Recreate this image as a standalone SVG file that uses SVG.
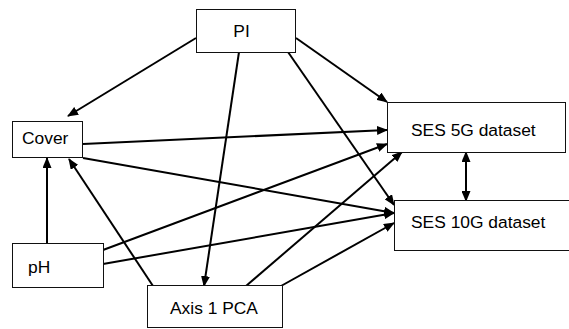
<svg xmlns="http://www.w3.org/2000/svg" width="569" height="329" viewBox="0 0 569 329">
<style>
.box{fill:#fff;stroke:#111;stroke-width:1}
.lbl{font-family:"Liberation Sans",Arial,sans-serif;font-size:17.4px;fill:#000}
.edge{stroke:#000;stroke-width:2;fill:none;marker-end:url(#ah)}
</style>
<defs>
<marker id="ah" markerUnits="userSpaceOnUse" markerWidth="11" markerHeight="9" refX="10" refY="4.5" orient="auto-start-reverse">
<path d="M0,0 L11,4.5 L0,9 z" fill="#000"/>
</marker>
</defs>
<rect width="569" height="329" fill="#fff"/>
<g id="connectors">
<line class="edge" x1="196" y1="38" x2="68" y2="116"/>
<line class="edge" x1="296" y1="38" x2="387" y2="102"/>
<line class="edge" x1="239" y1="52" x2="204" y2="286"/>
<line class="edge" x1="288" y1="52" x2="394" y2="205"/>
<line class="edge" x1="83" y1="144" x2="387" y2="130"/>
<line class="edge" x1="83" y1="158" x2="394" y2="213"/>
<line class="edge" x1="47" y1="243" x2="47" y2="158"/>
<line class="edge" x1="153" y1="286" x2="69" y2="159"/>
<line class="edge" x1="103" y1="250" x2="387" y2="144"/>
<line class="edge" x1="103" y1="264" x2="394" y2="213"/>
<line class="edge" x1="246" y1="286" x2="402" y2="152"/>
<line class="edge" x1="281" y1="286" x2="394" y2="223"/>
<line class="edge" x1="466" y1="152" x2="466" y2="201" marker-start="url(#ah)"/>
</g>
<g id="PI"><rect class="box" x="196.5" y="9.5" width="99" height="43"/><text class="lbl" x="241.5" y="37" text-anchor="middle">PI</text></g>
<g id="Cover"><rect class="box" x="12.5" y="121.5" width="70" height="36"/><text class="lbl" x="22" y="144">Cover</text></g>
<g id="pH"><rect class="box" x="12.5" y="243.5" width="91" height="44"/><text class="lbl" x="28" y="273">pH</text></g>
<g id="Axis1PCA"><rect class="box" x="147.5" y="285.5" width="135" height="42"/><text class="lbl" x="170" y="314">Axis 1 PCA</text></g>
<g id="SES5G"><rect class="box" x="387.5" y="102.5" width="178" height="50"/><text class="lbl" x="411" y="136">SES 5G dataset</text></g>
<g id="SES10G"><rect class="box" x="394.5" y="200.5" width="180" height="50"/><text class="lbl" x="411" y="228">SES 10G dataset</text></g>
</svg>
